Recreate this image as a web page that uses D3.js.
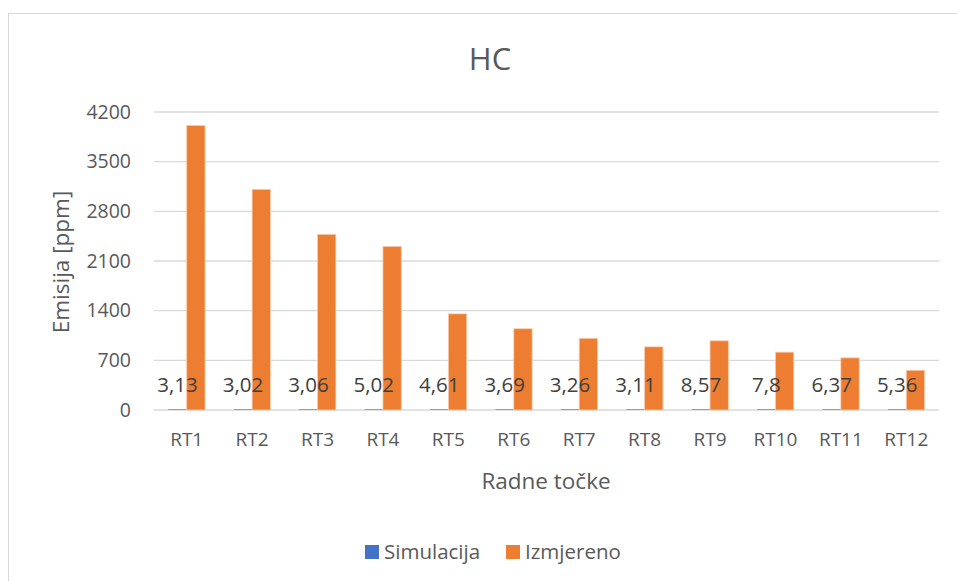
<!DOCTYPE html>
<html><head><meta charset="utf-8">
<script src="https://cdn.jsdelivr.net/npm/d3@7"></script>
<style>body{margin:0;background:#fff}svg{display:block}text{font-family:"Open Sans",sans-serif}</style>
</head><body><svg id="c" width="957" height="581"></svg>
<script>
const categories = ["RT1","RT2","RT3","RT4","RT5","RT6","RT7","RT8","RT9","RT10","RT11","RT12"];
const simulacija = [3.13,3.02,3.06,5.02,4.61,3.69,3.26,3.11,8.57,7.8,6.37,5.36];
const izmjereno = [4010,3110,2475,2305,1355,1145,1010,890,975,815,735,560];
const yTicks = [0,700,1400,2100,2800,3500,4200];
const seriesNames = ["Simulacija","Izmjereno"];
const colors = ["#4472C4","#ED7D31"];

const svg = d3.select("#c");
svg.append("rect").attr("x",8.5).attr("y",13.5).attr("width",960).attr("height",600)
  .attr("fill","#fff").attr("stroke","#d9d9d9").attr("stroke-width",1);

const L=154, R=939, T=112, B=410;
const x = d3.scaleBand().domain(categories).range([L,R]).paddingInner(0.44).paddingOuter(0.22);
const xs = d3.scaleBand().domain(seriesNames).range([0,x.bandwidth()]);
const y = d3.scaleLinear().domain([0,4200]).range([B,T]);

// grid
svg.append("g").selectAll("line").data(yTicks).join("line")
  .attr("x1",L).attr("x2",R).attr("y1",d=>y(d)).attr("y2",d=>y(d))
  .attr("stroke","#d9d9d9").attr("stroke-width",1.3);

// y axis labels
const ya = svg.append("g").attr("transform",`translate(${L-23},0)`)
  .call(d3.axisLeft(y).tickValues(yTicks).tickFormat(d3.format("d")).tickSize(0).tickPadding(0));
ya.select(".domain").remove();
ya.selectAll("text").attr("font-size",19.5).attr("fill","#595959").attr("font-family","'Open Sans',sans-serif");

// x axis labels
const xa = svg.append("g").attr("transform",`translate(0,${B+22})`)
  .call(d3.axisBottom(x).tickSize(0).tickPadding(0));
xa.select(".domain").remove();
xa.selectAll("text").attr("font-size",19).attr("fill","#595959").attr("dy","0.71em").attr("font-family","'Open Sans',sans-serif");

const data = categories.map((c,i)=>({c, v:[simulacija[i], izmjereno[i]]}));
const g = svg.append("g").selectAll("g").data(data).join("g").attr("transform",d=>`translate(${x(d.c)},0)`);
g.selectAll("rect").data(d=>d.v.map((v,k)=>({v,k}))).join("rect")
  .attr("x",d=>xs(seriesNames[d.k])).attr("width",xs.bandwidth())
  .attr("y",d=>Math.min(y(d.v), B-1)).attr("height",d=>Math.max(B-y(d.v),1))
  .attr("fill",d=>colors[d.k]).attr("fill-opacity",d=>d.k===0?0.6:1)
  .attr("stroke",d=>d.k===1?"#f9cbad":"none").attr("stroke-width",0.8);

// data labels for Simulacija
g.append("text").attr("x",d=>xs("Simulacija")+xs.bandwidth()/2).attr("y",d=>y(d.v[0])-17.5)
  .attr("text-anchor","middle").attr("font-size",20.5).attr("fill","#404040")
  .text(d=>String(d.v[0]).replace(".",","));

// title
svg.append("text").attr("x",490).attr("y",70).attr("text-anchor","middle")
  .attr("font-size",31).attr("fill","#595959").text("HC");

// axis titles
svg.append("text").attr("x",546).attr("y",489).attr("text-anchor","middle")
  .attr("font-size",22.5).attr("fill","#595959").text("Radne točke");
svg.append("text").attr("transform","translate(69,262) rotate(-90)").attr("text-anchor","middle")
  .attr("font-size",22.5).attr("fill","#595959").text("Emisija [ppm]");

// legend
const lg = svg.append("g");
const legX = [365, 506];
seriesNames.forEach((n,i)=>{
  lg.append("rect").attr("x",legX[i]).attr("y",545).attr("width",14).attr("height",14).attr("fill",colors[i]);
  lg.append("text").attr("x",legX[i]+19).attr("y",558.5).attr("font-size",20.5).attr("fill","#595959").text(n);
});
</script></body></html>
